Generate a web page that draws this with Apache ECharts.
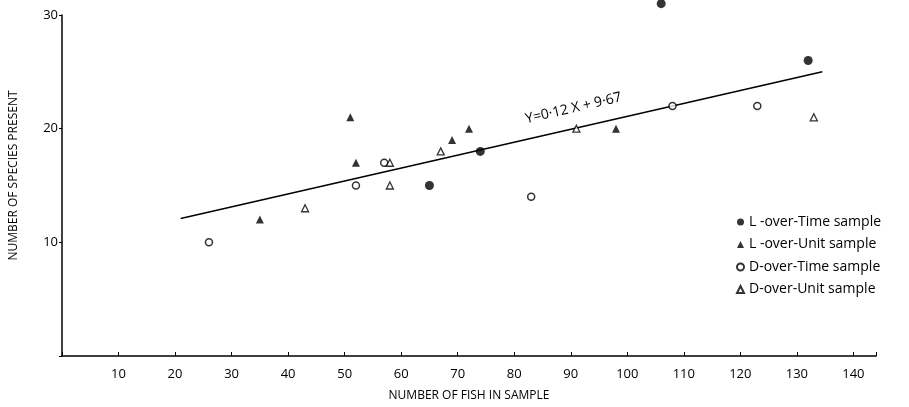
<!DOCTYPE html>
<html>
<head>
<meta charset="utf-8">
<script src="https://cdn.jsdelivr.net/npm/echarts@6/dist/echarts.min.js"></script>
<style>
  html, body { margin: 0; padding: 0; background: #fff; }
  #chart { width: 909px; height: 407px; }
</style>
</head>
<body>
<div id="chart"></div>
<script>
// points: [fish in sample, species present]
var lTime = [[65, 15], [74, 18], [106, 31], [132, 26]];
var lUnit = [[35, 12], [51, 21], [52, 17], [69, 19], [72, 20], [98, 20]];
var dTime = [[26, 10], [52, 15], [57, 17], [83, 14], [108, 22], [123, 22]];
var dUnit = [[43, 13], [58, 17], [58, 15], [67, 18], [91, 20], [133, 21]];
// fitted line, ends as drawn
var fitX = [21, 134.5];
var fitY = [12.1, 25.0];
var fitLabel = 'Y=0·12 X + 9·67';
var xTicks = [10, 20, 30, 40, 50, 60, 70, 80, 90, 100, 110, 120, 130, 140];
var yTicks = [10, 20, 30];

var font = 'Open Sans';
var ink = '#000';
var fitData = fitX.map(function (x, i) { return [x, fitY[i]]; });

var chart = echarts.init(document.getElementById('chart'));
chart.setOption({
    animation: false,
    textStyle: { fontFamily: font, color: ink },
    grid: { left: 57, right: 33, top: 15, bottom: 49 },
    legend: {
        orient: 'vertical',
        left: 731,
        top: 210,
        itemWidth: 7,
        itemHeight: 7,
        itemGap: 8.5,
        textStyle: { fontFamily: font, fontSize: 14, color: ink },
        data: ['L -over-Time sample', 'L -over-Unit sample', 'D-over-Time sample', 'D-over-Unit sample']
    },
    xAxis: {
        type: 'value',
        min: 0,
        max: 144,
        interval: 10,
        splitLine: { show: false },
        axisLine: { lineStyle: { color: ink, width: 1.5 } },
        axisTick: { inside: true, length: 4, lineStyle: { color: ink } },
        axisLabel: {
            fontSize: 13, color: ink, margin: 12,
            formatter: function (v) { return xTicks.indexOf(v) >= 0 ? v : ''; }
        },
        name: 'NUMBER OF FISH IN SAMPLE',
        nameLocation: 'middle',
        nameGap: 34,
        nameTextStyle: { fontSize: 12, color: ink }
    },
    yAxis: {
        type: 'value',
        min: 0,
        max: 30,
        interval: 10,
        splitLine: { show: false },
        axisLine: { lineStyle: { color: ink, width: 1.5 } },
        axisTick: { length: 3, lineStyle: { color: ink } },
        axisLabel: {
            fontSize: 13, color: ink, margin: 4,
            formatter: function (v) { return yTicks.indexOf(v) >= 0 ? v : ''; }
        },
        name: 'NUMBER OF SPECIES PRESENT',
        nameLocation: 'middle',
        nameGap: 42,
        nameTextStyle: { fontSize: 12, color: ink, padding: [0, 0, 0, 20] }
    },
    series: [
        {
            type: 'line',
            data: fitData,
            symbol: 'none',
            lineStyle: { color: ink, width: 1.5 },
            z: 1,
            markPoint: {
                symbol: 'circle',
                symbolSize: 0,
                data: [{ coord: [90.5, 21.8] }],
                label: {
                    show: true,
                    formatter: fitLabel,
                    rotate: 13,
                    fontSize: 14,
                    fontFamily: font,
                    color: ink
                }
            }
        },
        {
            name: 'L -over-Time sample',
            type: 'scatter',
            data: lTime,
            clip: false,
            symbol: 'circle',
            symbolSize: 9,
            itemStyle: { color: ink },
            z: 3
        },
        {
            name: 'L -over-Unit sample',
            type: 'scatter',
            data: lUnit,
            clip: false,
            symbol: 'triangle',
            symbolSize: 8,
            itemStyle: { color: ink },
            z: 3
        },
        {
            name: 'D-over-Time sample',
            type: 'scatter',
            data: dTime,
            clip: false,
            symbol: 'circle',
            symbolSize: 7,
            itemStyle: { color: '#fff', borderColor: ink, borderWidth: 1.5 },
            z: 3
        },
        {
            name: 'D-over-Unit sample',
            type: 'scatter',
            data: dUnit,
            clip: false,
            symbol: 'triangle',
            symbolSize: 7,
            itemStyle: { color: '#fff', borderColor: ink, borderWidth: 1.3 },
            z: 3
        }
    ]
});
</script>
</body>
</html>
